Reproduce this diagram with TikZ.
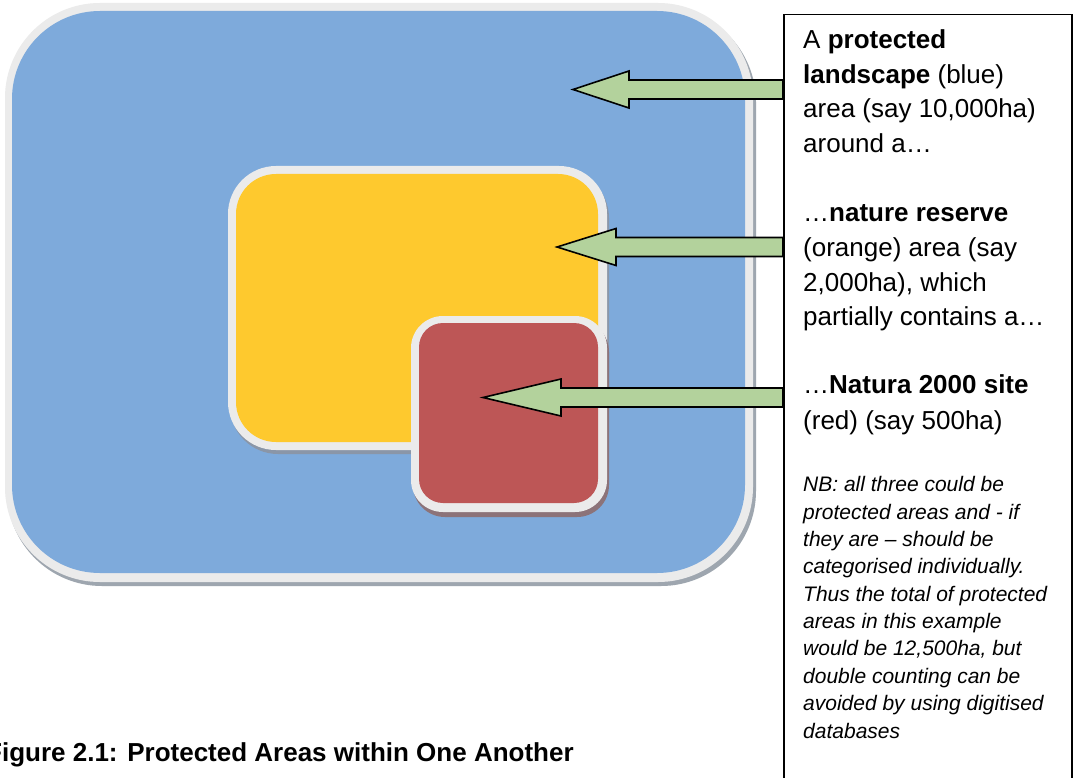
\documentclass[tikz,border=0pt]{standalone}
\usepackage{fontspec}
\setmainfont{Liberation Sans}
\usetikzlibrary{calc}
\definecolor{pblue}{HTML}{7EAADB}
\definecolor{pyellow}{HTML}{FEC92E}
\definecolor{pred}{HTML}{BD5656}
\definecolor{pborder}{HTML}{EBEBEB}
\definecolor{parrow}{HTML}{B3D29C}
\definecolor{shblue}{HTML}{9EA6AF}
\definecolor{shyellow}{HTML}{8A96A8}
\definecolor{shred}{HTML}{8C7379}
\newcommand\greenarrow[2]{% #1 tip coordinate, #2 head length
  \draw[garrow] (#1) -- ++(#2,-18.5) -- ++(0,9) -- ($(#1 -| box.west)+(0,-9.5)$)
    -- ++(0,19) -- ($(#1)+(#2,9.5)$) -- ++(0,9) -- cycle;}
\begin{document}
\begin{tikzpicture}[x=1pt,y=-1pt,
  txt/.style={anchor=base west, inner sep=0, font=\fontsize{26}{31}\selectfont},
  nb/.style={anchor=base west, inner sep=0, font=\fontsize{21}{25}\selectfont\itshape},
  captionstyle/.style={anchor=base west, inner sep=0, font=\fontsize{26}{31}\selectfont\bfseries},
  garrow/.style={draw=black, line width=1.6pt, fill=parrow, line join=miter},
  area/.style={rounded corners=#1},
]
\useasboundingbox (0,0) rectangle (1075,778);
\clip (0,0) rectangle (1075,778);
\fill[white] (0,0) rectangle (1075,778);

% protected landscape (blue)
\fill[shblue, area=95] (7,7) rectangle (756,586);
\fill[pborder, area=95] (5,3) rectangle (753,582);
\fill[pblue, area=88] (12,11) rectangle (745,573);

% nature reserve (orange)
\fill[shyellow, area=48] (230,170) rectangle (609,454);
\fill[pborder, area=48] (228,166) rectangle (607,450);
\fill[pyellow, area=40] (236,174) rectangle (598,442);

% Natura 2000 site (red)
\fill[shred, area=32] (413,320) rectangle (609,517);
\fill[pborder, area=32] (411,316) rectangle (607,512);
\fill[pred, area=24] (419,323) rectangle (598,503);

% text box
\node[draw=black, line width=1.5pt, fill=white, minimum width=288, minimum height=800,
      anchor=north west, inner sep=0] (box) at (783,14) {};

% arrow tips
\coordinate (tipblue) at (573,89.5);
\coordinate (tiporange) at (557,247);
\coordinate (tipred) at (483,397.5);
\greenarrow{tipblue}{56}
\greenarrow{tiporange}{59}
\greenarrow{tipred}{78}

% paragraph 1
\node[txt] (a1) at (803,48.5) {A \textbf{protected}};
\node[txt] (a2) at (803,83.2) {\textbf{landscape} (blue)};
\node[txt] (a3) at (803,117.9) {area (say 10,000ha)};
\node[txt] (a4) at (803,152.6) {around a…};
% paragraph 2
\node[txt] (b1) at (803,221.8) {…\textbf{nature reserve}};
\node[txt] (b2) at (803,256.5) {(orange) area (say};
\node[txt] (b3) at (803,291.2) {2,000ha), which};
\node[txt] (b4) at (803,325.9) {partially contains a…};
% paragraph 3
\node[txt] (c1) at (803,393.5) {…\textbf{Natura 2000 site}};
\node[txt] (c2) at (803,429) {(red) (say 500ha)};
% NB
\node[nb] (n1) at (803,491.7) {NB: all three could be};
\node[nb] (n2) at (803,519.1) {protected areas and - if};
\node[nb] (n3) at (803,546.4) {they are – should be};
\node[nb] (n4) at (803,573.8) {categorised individually.};
\node[nb] (n5) at (803,601.1) {Thus the total of protected};
\node[nb] (n6) at (803,628.5) {areas in this example};
\node[nb] (n7) at (803,655.9) {would be 12,500ha, but};
\node[nb] (n8) at (803,683.2) {double counting can be};
\node[nb] (n9) at (803,710.6) {avoided by using digitised};
\node[nb] (n10) at (803,738.0) {databases};

% caption
\node[captionstyle] (caption) at (-14,761.5) {Figure 2.1: Protected Areas within One Another};
\end{tikzpicture}
\end{document}
